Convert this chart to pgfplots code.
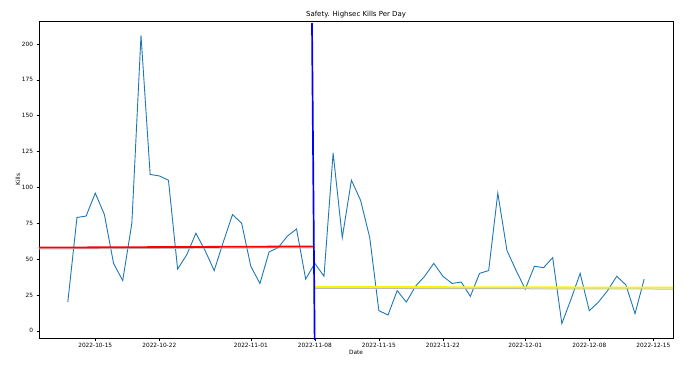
\documentclass[border=0pt]{standalone}
\usepackage{fontspec}
\setmainfont{DejaVu Sans}
\usepackage{pgfplots}
\pgfplotsset{compat=1.18}
\definecolor{mplblue}{HTML}{1F77B4}
\pgfplotstableread{
day kills
-3 20
-2 79
-1 80
0 96
1 81
2 47
3 35
4 75
5 206
6 109
7 108
8 105
9 43
10 53
11 68
12 56
13 42
14 62
15 81
16 75
17 45
18 33
19 55
20 58
21 66
22 71
23 36
24 47
25 38
26 124
27 65
28 105
29 91
30 65
31 14
32 11
33 28
34 20
35 31
36 38
37 47
38 38
39 33
40 34
41 24
42 40
43 42
44 96
45 56
46 42
47 29
48 45
49 44
50 51
51 5
52 22
53 40
54 14
55 20
56 28
57 38
58 32
59 12
60 36
}\kills
\begin{document}
\begin{tikzpicture}
\path[use as bounding box] (-39bp,-28bp) rectangle (651bp,338bp);
\begin{axis}[
  at={(0,0)}, anchor=south west,
  scale only axis,
  width=634bp, height=317bp,
  xmin=-6.15, xmax=63.15,
  ymin=-5.05, ymax=216.05,
  clip=false,
  axis line style={black, line width=0.5bp},
  tick style={black, line width=0.5bp},
  tick align=outside,
  major tick length=2.5bp,
  xtick={0,7,17,24,31,38,47,54,61},
  xticklabels={2022-10-15,2022-10-22,2022-11-01,2022-11-08,2022-11-15,2022-11-22,2022-12-01,2022-12-08,2022-12-15},
  ytick={0,25,50,75,100,125,150,175,200},
  xtick pos=bottom, ytick pos=left,
  /pgf/number format/assume math mode=true,
  tick label style={font=\fontsize{5.85}{7}\selectfont},
  xticklabel style={yshift=1bp},
  xlabel={Date}, ylabel={Kills},
  label style={font=\fontsize{5.85}{7}\selectfont},
  xlabel style={at={(axis description cs:0.5,-0.0442)}, anchor=center},
  ylabel style={at={(axis description cs:-0.0331,0.5)}, anchor=center},
  title={Safety. Highsec Kills Per Day},
  every axis title shift=0pt,
  title style={font=\fontsize{7}{8}\selectfont, at={(axis description cs:0.5,1.019)}, anchor=center, yshift=0pt},
]
\addplot[mplblue, line width=0.9bp, mark=none] table[x=day, y=kills] {\kills};
% red level before
\addplot[gray!55, line width=1bp] coordinates {(-6.15,57.1) (23.94,57.9)};
\addplot[red, line width=1.8bp] coordinates {(-6.15,58.0) (23.94,58.8)};
% yellow level after
\addplot[gray!55, line width=1bp] coordinates {(24.03,29.6) (63.15,29.1)};
\addplot[yellow, line width=1.8bp] coordinates {(24.03,30.6) (63.15,30.1)};
% vertical marker
\addplot[blue, line width=1.7bp] coordinates {(23.98,-6.3) (23.69,214.5)};
\end{axis}
\end{tikzpicture}
\end{document}
